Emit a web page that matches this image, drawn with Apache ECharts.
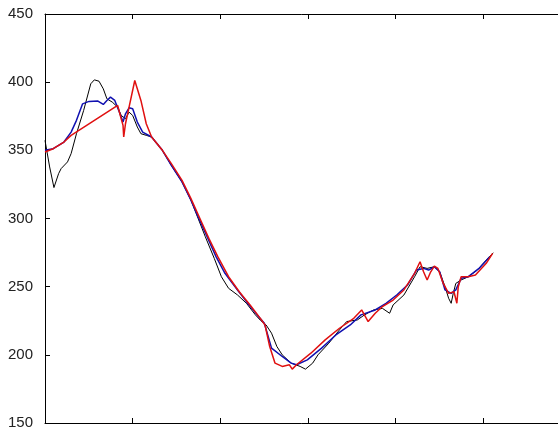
<!DOCTYPE html>
<html>
<head>
<meta charset="utf-8">
<script src="https://cdn.jsdelivr.net/npm/echarts@6/dist/echarts.min.js"></script>
<style>
html,body{margin:0;padding:0;background:#fff;}
#chart{width:558px;height:432px;}
</style>
</head>
<body>
<div id="chart"></div>
<script>
var xTicks = [0, 100, 200, 300, 400, 500, 600];
var yTicks = [150, 200, 250, 300, 350, 400, 450];

var blackX = [0, 5.3, 10.2, 15.5, 18.4, 25.7, 29.8, 35.9, 44.1, 52.2, 56.3, 61.6, 66.5, 70.6, 76.7, 82.9, 86.9, 91.8, 95.9, 100.0, 105.3, 109.4, 115.5, 121.6, 133.9, 144.1, 156.3, 166.5, 174.7, 182.9, 193.1, 201.2, 209.4, 219.6, 229.8, 240.0, 246.1, 252.2, 258.4, 264.5, 270.6, 280.8, 291.0, 297.1, 305.3, 311.4, 323.7, 335.9, 344.1, 356.3, 364.5, 374.7, 384.9, 393.1, 397.1, 409.4, 421.6, 427.8, 435.9, 444.1, 450.2, 456.3, 460.4, 463.3, 465.7, 468.6, 474.7, 482.9, 493.1, 503.3, 511.4];
var blackY = [357.3, 337.8, 322.7, 332.9, 336.6, 341.5, 347.6, 362.2, 379.3, 398.8, 401.7, 400.7, 395.1, 387.8, 385.4, 381.7, 375.6, 373.2, 378.0, 375.6, 367.1, 362.2, 361.0, 359.8, 350.0, 339.0, 326.8, 313.4, 300.0, 286.6, 270.7, 257.3, 248.8, 243.9, 237.8, 229.3, 225.1, 221.9, 215.9, 206.1, 200.0, 193.9, 191.5, 189.5, 193.9, 200.0, 208.5, 218.3, 224.4, 225.6, 229.3, 232.9, 234.1, 230.5, 236.6, 243.9, 257.3, 264.6, 263.4, 264.6, 260.9, 250.0, 241.5, 237.8, 245.1, 252.4, 254.9, 257.3, 262.2, 269.5, 274.9];

var blueX = [0, 9.4, 21.6, 29.8, 35.9, 42.9, 50.2, 60.4, 66.5, 70.6, 74.7, 79.6, 84.9, 89.0, 91.8, 95.9, 100.0, 105.3, 111.4, 121.6, 133.9, 144.1, 156.3, 166.5, 174.7, 184.9, 195.1, 205.3, 219.6, 229.8, 242.0, 250.2, 258.4, 270.6, 280.8, 286.9, 299.2, 315.5, 331.8, 348.2, 360.4, 376.7, 389.0, 401.2, 413.5, 423.7, 431.8, 437.6, 444.1, 450.2, 456.3, 463.3, 468.6, 474.7, 482.9, 495.1, 507.3];
var blueY = [350.0, 351.2, 356.1, 363.4, 372.0, 384.1, 385.9, 386.1, 383.7, 386.6, 389.0, 386.6, 378.0, 370.7, 376.8, 381.2, 380.5, 370.7, 363.4, 359.8, 350.0, 339.0, 326.8, 313.4, 301.2, 286.6, 272.0, 259.8, 247.6, 239.0, 229.3, 223.2, 204.9, 198.8, 193.9, 192.7, 196.3, 204.9, 214.6, 221.9, 229.3, 232.9, 237.8, 243.9, 251.2, 262.2, 263.4, 262.2, 264.6, 260.9, 247.6, 245.1, 247.6, 256.1, 257.3, 263.4, 271.9];

var redX = [0, 9.4, 21.6, 29.8, 82.9, 86.9, 89.0, 89.8, 91.8, 95.1, 102.4, 109.4, 115.5, 117.6, 121.6, 133.9, 144.1, 156.3, 166.5, 176.7, 186.9, 197.1, 209.4, 221.6, 233.9, 244.1, 248.2, 251.0, 256.3, 262.4, 270.6, 278.8, 282.0, 286.9, 303.3, 319.6, 335.9, 352.2, 361.2, 368.6, 376.7, 384.9, 397.1, 409.4, 421.6, 427.8, 431.8, 435.9, 440.0, 444.1, 448.2, 454.3, 460.4, 466.5, 469.8, 471.4, 474.7, 482.9, 491.0, 503.3, 510.6];
var redY = [348.8, 351.2, 356.1, 361.0, 382.9, 373.2, 368.3, 359.8, 369.5, 379.3, 401.2, 386.6, 369.5, 369.0, 359.8, 350.0, 340.2, 328.0, 314.6, 300.0, 285.4, 272.0, 257.3, 246.3, 236.6, 228.0, 224.4, 221.9, 206.1, 193.9, 191.5, 192.7, 189.5, 192.7, 201.2, 211.0, 219.5, 226.8, 232.9, 224.4, 230.5, 235.4, 240.2, 247.6, 259.8, 268.3, 260.9, 254.9, 260.9, 265.1, 263.4, 252.4, 245.1, 246.3, 237.8, 250.0, 257.3, 257.3, 258.5, 267.1, 274.4];

function pairs(xs, ys) { return xs.map(function (x, i) { return [x, ys[i]]; }); }

var chart = echarts.init(document.getElementById('chart'));
var lineAx = { show: true, onZero: false, lineStyle: { color: '#000', width: 1 } };
chart.setOption({
  animation: false,
  backgroundColor: '#fff',
  grid: { left: 45, top: 14, right: -13, bottom: 9, containLabel: false, outerBoundsMode: 'none' },
  xAxis: [
    {
      type: 'value', min: xTicks[0], max: xTicks[xTicks.length - 1], interval: 100,
      position: 'bottom',
      axisLine: lineAx,
      axisTick: { show: true, inside: true, length: 5, lineStyle: { color: '#000' } },
      axisLabel: { show: true, margin: 7, color: '#222', fontFamily: 'Liberation Sans', fontSize: 15 },
      splitLine: { show: false }
    },
    {
      type: 'value', min: xTicks[0], max: xTicks[xTicks.length - 1], interval: 100,
      position: 'top',
      axisLine: lineAx,
      axisTick: { show: true, inside: true, length: 5, lineStyle: { color: '#000' } },
      axisLabel: { show: false },
      splitLine: { show: false }
    }
  ],
  yAxis: {
    type: 'value', min: yTicks[0], max: yTicks[yTicks.length - 1], interval: 50,
    axisLine: lineAx,
    axisTick: { show: true, inside: true, length: 5, lineStyle: { color: '#000' } },
    axisLabel: { margin: 12, color: '#222', fontFamily: 'Liberation Sans', fontSize: 15 },
    splitLine: { show: false }
  },
  series: [
    { type: 'line', data: pairs(blackX, blackY), showSymbol: false, lineStyle: { color: '#000000', width: 1 }, z: 2 },
    { type: 'line', data: pairs(blueX, blueY), showSymbol: false, lineStyle: { color: '#1010b0', width: 1.5 }, z: 3 },
    { type: 'line', data: pairs(redX, redY), showSymbol: false, lineStyle: { color: '#e01010', width: 1.5 }, z: 4 }
  ]
});
</script>
</body>
</html>
